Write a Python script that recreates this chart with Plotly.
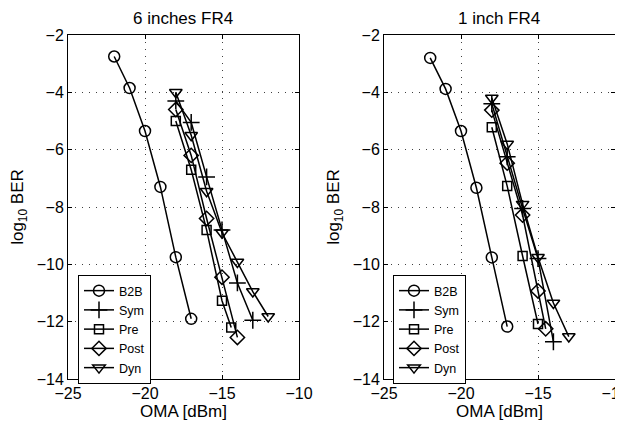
import plotly.graph_objects as go

# The page body adds an 8 px margin, so the figure is 8 px smaller and every
# pixel position below is shifted by OFF.
OFF = 8
W, H = 623 - OFF, 430 - OFF

series_names = ["B2B", "Sym", "Pre", "Post", "Dyn"]
symbols = ["circle-open", "cross-thin-open", "square-open", "diamond-open", "triangle-down-open"]
sizes = [11, 12, 9, 11, 11]

# 6 inches FR4
left_x = {
    "B2B": [-22, -21, -20, -19, -18, -17],
    "Sym": [-18, -17, -16, -15, -14, -13],
    "Pre": [-18, -17, -16, -15, -14.4],
    "Post": [-18, -17, -16, -15, -14],
    "Dyn": [-18, -17, -16, -15, -14, -13, -12],
}
left_y = {
    "B2B": [-2.75, -3.85, -5.35, -7.3, -9.75, -11.9],
    "Sym": [-4.3, -5.05, -6.95, -8.8, -10.65, -11.95],
    "Pre": [-5.0, -6.7, -8.8, -11.27, -12.2],
    "Post": [-4.6, -6.2, -8.4, -10.45, -12.55],
    "Dyn": [-4.0, -5.5, -7.45, -8.9, -9.92, -10.95, -11.82],
}
# 1 inch FR4
right_x = {
    "B2B": [-22, -21, -20, -19, -18, -17],
    "Sym": [-18, -17, -16, -15, -14],
    "Pre": [-18, -17, -16, -15],
    "Post": [-18, -17, -16, -15, -14.5],
    "Dyn": [-18, -17, -16, -15, -14, -13],
}
right_y = {
    "B2B": [-2.8, -3.88, -5.35, -7.33, -9.76, -12.17],
    "Sym": [-4.4, -6.25, -8.05, -9.8, -12.7],
    "Pre": [-5.22, -7.27, -9.71, -12.08],
    "Post": [-4.62, -6.47, -8.28, -10.93, -12.25],
    "Dyn": [-4.2, -5.8, -7.9, -9.75, -11.35, -12.52],
}

x_ticks = [-25, -20, -15, -10]
y_ticks = [-14, -12, -10, -8, -6, -4, -2]
titles = ["6 inches FR4", "1 inch FR4"]

FONT = "Liberation Sans, Arial, sans-serif"

fig = go.Figure()
for panel, (xs, ys) in enumerate([(left_x, left_y), (right_x, right_y)]):
    for name, sym, sz in zip(series_names, symbols, sizes):
        fig.add_trace(go.Scatter(
            x=xs[name], y=ys[name], mode="lines+markers", name=name,
            line=dict(color="black", width=1.5),
            marker=dict(symbol=sym, size=sz, color="black",
                        line=dict(color="black", width=1.5)),
            xaxis="x" if panel == 0 else "x2",
            yaxis="y" if panel == 0 else "y2",
            legend="legend" if panel == 0 else "legend2",
        ))

def px_x(p):
    return (p - OFF) / W

def px_y(p):
    return 1 - (p - OFF) / H

dom_y = [px_y(379), px_y(35)]
dom_x1 = [px_x(68), px_x(299)]
dom_x2 = [px_x(384), px_x(615)]

axis_common = dict(
    showline=True, linecolor="black", linewidth=1, mirror="allticks",
    ticks="inside", ticklen=4, tickcolor="black",
    showgrid=True, gridcolor="rgba(0,0,0,0.75)", griddash="1px,6px", gridwidth=1,
    zeroline=False, tickfont=dict(size=16, color="black", family=FONT),
    automargin=False, ticklabeloverflow="allow",
)

legend_common = dict(
    bgcolor="white", bordercolor="black", borderwidth=1,
    font=dict(size=12.5, color="black", family=FONT),
    xanchor="left", yanchor="top", tracegroupgap=0, itemwidth=30,
)

fig.update_layout(
    width=W, height=H,
    margin=dict(l=0, r=0, t=0, b=0, autoexpand=False),
    paper_bgcolor="white", plot_bgcolor="white",
    font=dict(family=FONT, size=16, color="black"),
    xaxis=dict(domain=dom_x1, range=[-25, -10], tickvals=x_ticks, anchor="y",
               title=dict(text="OMA [dBm]", standoff=2, font=dict(size=17)), **axis_common),
    yaxis=dict(domain=dom_y, range=[-14, -2], tickvals=y_ticks, anchor="x",
               title=dict(text="log<sub>10</sub> BER", standoff=8, font=dict(size=17)), **axis_common),
    xaxis2=dict(domain=dom_x2, range=[-25, -10], tickvals=x_ticks, anchor="y2",
                title=dict(text="OMA [dBm]", standoff=2, font=dict(size=17)), **axis_common),
    yaxis2=dict(domain=dom_y, range=[-14, -2], tickvals=y_ticks, anchor="x2",
                title=dict(text="log<sub>10</sub> BER", standoff=8, font=dict(size=17)), **axis_common),
    legend=dict(x=px_x(78), y=px_y(275), **legend_common),
    legend2=dict(x=px_x(393), y=px_y(275), **legend_common),
    showlegend=True,
    annotations=[
        dict(text=titles[0], x=(dom_x1[0] + dom_x1[1]) / 2, y=px_y(18),
             xref="paper", yref="paper", xanchor="center", yanchor="middle",
             showarrow=False, font=dict(size=17)),
        dict(text=titles[1], x=(dom_x2[0] + dom_x2[1]) / 2, y=px_y(18),
             xref="paper", yref="paper", xanchor="center", yanchor="middle",
             showarrow=False, font=dict(size=17)),
    ],
)

fig.write_html("out.html")
